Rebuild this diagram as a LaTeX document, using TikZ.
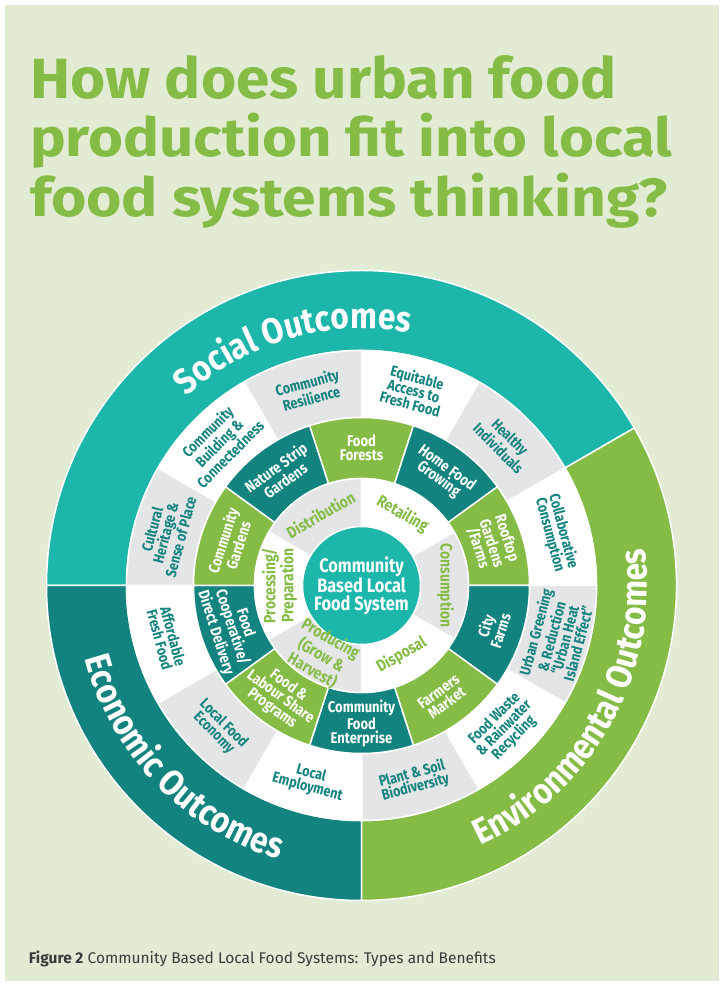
\documentclass[tikz,border=0pt]{standalone}
\usepackage{graphicx}
\usepackage{fontspec}
\setmainfont{Fira Sans}
\newfontfamily\labfont[FakeStretch=0.84]{Fira Sans}
\newfontfamily\outfont[FakeStretch=0.88]{Fira Sans}
\newfontfamily\ttlfont{Fira Sans}
\usetikzlibrary{decorations.text}
\definecolor{bgg}{HTML}{E2ECD4}
\definecolor{teal1}{HTML}{1DB6AA}
\definecolor{dteal}{HTML}{12837E}
\definecolor{lgreen}{HTML}{85BC46}
\definecolor{lgray}{HTML}{E4E5E7}
\definecolor{capgray}{HTML}{3A3A3A}
\newcommand{\annsec}[5]{%
  \path[secstyle, fill=#1] (#2:#4) arc[start angle=#2, end angle=#3, radius=#4]
    -- (#3:#5) arc[start angle=#3, end angle=#2, radius=#5] -- cycle;}
\tikzset{
  secstyle/.style={draw=white, line width=1.5pt, line join=round},
  outlab/.style={font={\labfont\bfseries\fontsize{15pt}{13.8pt}\selectfont}, text=dteal, align=center, inner sep=0pt},
  typelab/.style={font={\labfont\bfseries\fontsize{15.5pt}{14pt}\selectfont}, text=white, align=center, inner sep=0pt},
  stagelab/.style={font={\labfont\bfseries\fontsize{16.5pt}{15pt}\selectfont}, text=lgreen, align=center, inner sep=0pt},
  ctrlab/.style={font={\labfont\bfseries\fontsize{19.5pt}{17.5pt}\selectfont}, text=white, align=center, inner sep=0pt},
  ttl/.style={anchor=base west, inner sep=0pt, text=lgreen}
}
\begin{document}
\begin{tikzpicture}[x=1pt,y=1pt]
\useasboundingbox (0,0) rectangle (724,986);
\fill[white] (0,0) rectangle (724,986);
\fill[bgg] (4.5,5.3) rectangle (718.5,981.4);

% title
\node[ttl] (t1) at (30,887) {\resizebox{586pt}{43pt}{\ttlfont\bfseries How does urban food}};
\node[ttl] (t2) at (30,829) {\resizebox{642pt}{43.5pt}{\ttlfont\bfseries production fit into local}};
\node[ttl] (t3) at (30,769) {\resizebox{637pt}{43.5pt}{\ttlfont\bfseries food systems thinking?}};

\begin{scope}[shift={(361.5,400.5)}]
% outer ring
\annsec{teal1}{30}{180}{235pt}{315pt}
\annsec{dteal}{180}{270}{235pt}{315pt}
\annsec{lgreen}{-90}{30}{235pt}{315pt}
% outcome ring
\annsec{white}{60}{90}{168pt}{235pt}
\annsec{lgray}{30}{60}{168pt}{235pt}
\annsec{white}{0}{30}{168pt}{235pt}
\annsec{lgray}{-30}{0}{168pt}{235pt}
\annsec{white}{-60}{-30}{168pt}{235pt}
\annsec{lgray}{-90}{-60}{168pt}{235pt}
\annsec{white}{-120}{-90}{168pt}{235pt}
\annsec{lgray}{-150}{-120}{168pt}{235pt}
\annsec{white}{-180}{-150}{168pt}{235pt}
\annsec{lgray}{150}{180}{168pt}{235pt}
\annsec{white}{120}{150}{168pt}{235pt}
\annsec{lgray}{90}{120}{168pt}{235pt}
% types ring
\annsec{lgreen}{72}{108}{107pt}{168pt}
\annsec{dteal}{36}{72}{107pt}{168pt}
\annsec{lgreen}{0}{36}{107pt}{168pt}
\annsec{dteal}{-36}{0}{107pt}{168pt}
\annsec{lgreen}{-72}{-36}{107pt}{168pt}
\annsec{dteal}{-108}{-72}{107pt}{168pt}
\annsec{lgreen}{-144}{-108}{107pt}{168pt}
\annsec{dteal}{-180}{-144}{107pt}{168pt}
\annsec{lgreen}{144}{180}{107pt}{168pt}
\annsec{dteal}{108}{144}{107pt}{168pt}
% stage ring
\annsec{lgray}{90}{150}{59pt}{107pt}
\annsec{white}{30}{90}{59pt}{107pt}
\annsec{lgray}{-30}{30}{59pt}{107pt}
\annsec{white}{-90}{-30}{59pt}{107pt}
\annsec{lgray}{-150}{-90}{59pt}{107pt}
\annsec{white}{150}{210}{59pt}{107pt}
% centre
\path[fill=teal1, draw=white, line width=1.5pt] (0,0) circle[radius=59pt];
\node[ctrlab] (ctr) at (0,0) {Community\\Based Local\\Food System};

% outer ring labels
\path[decorate, decoration={text along path, text align=center,
  text={|\outfont\bfseries\fontsize{36pt}{36pt}\selectfont\color{white}|Social Outcomes}}]
  (176:257pt) arc[start angle=176, end angle=36, radius=257pt];
\path[decorate, decoration={text along path, text align=center,
  text={|\outfont\bfseries\fontsize{36pt}{36pt}\selectfont\color{white}|Economic Outcomes}}]
  (164:286pt) arc[start angle=164, end angle=284, radius=286pt];
\path[decorate, decoration={text along path, text align=center,
  text={|\outfont\bfseries\fontsize{36pt}{36pt}\selectfont\color{white}|Environmental Outcomes}}]
  (-89:286pt) arc[start angle=-89, end angle=31, radius=286pt];

% outcome labels
\node[outlab, rotate=-15] (o1) at (75:202pt) {Equitable\\Access to\\Fresh Food};
\node[outlab, rotate=-45] (o2) at (45:202pt) {Healthy\\Individuals};
\node[outlab, rotate=-75] (o3) at (15:202pt) {Collaborative\\Consumption};
\node[outlab, rotate=75] (o4) at (-15:202pt) {Urban Greening\\\& Reduction\\“Urban Heat\\Island Effect”};
\node[outlab, rotate=45] (o5) at (-45:202pt) {Food Waste\\\& Rainwater\\Recycling};
\node[outlab, rotate=15] (o6) at (-75:202pt) {Plant \& Soil\\Biodiversity};
\node[outlab, rotate=-15] (o7) at (-105:202pt) {Local\\Employment};
\node[outlab, rotate=-45] (o8) at (-135:202pt) {Local Food\\Economy};
\node[outlab, rotate=-75] (o9) at (-165:202pt) {Affordable\\Fresh Food};
\node[outlab, rotate=75] (o10) at (165:202pt) {Cultural\\Heritage \&\\Sense of Place};
\node[outlab, rotate=45] (o11) at (135:202pt) {Community\\Building \&\\Connectedness};
\node[outlab, rotate=15] (o12) at (105:202pt) {Community\\Resilience};

% type labels
\node[typelab] (y1) at (90:138pt) {Food\\Forests};
\node[typelab, rotate=-36] (y2) at (54:138pt) {Home Food\\Growing};
\node[typelab, rotate=-72] (y3) at (18:138pt) {Rooftop\\Gardens\\/Farms};
\node[typelab, rotate=72] (y4) at (-18:138pt) {City\\Farms};
\node[typelab, rotate=36] (y5) at (-54:138pt) {Farmers\\Market};
\node[typelab] (y6) at (-90:138pt) {Community\\Food\\Enterprise};
\node[typelab, rotate=-36] (y7) at (-126:138pt) {Food \&\\Labour Share\\Programs};
\node[typelab, rotate=-72] (y8) at (-162:138pt) {Food\\Cooperative/\\Direct Delivery};
\node[typelab, rotate=72] (y9) at (162:138pt) {Community\\Gardens};
\node[typelab, rotate=36] (y10) at (126:138pt) {Nature Strip\\Gardens};

% stage labels
\node[stagelab, rotate=30] (s1) at (120:82pt) {Distribution};
\node[stagelab, rotate=-30] (s2) at (60:82pt) {Retailing};
\node[stagelab, rotate=-90] (s3) at (0:84pt) {Consumption};
\node[stagelab, rotate=30] (s4) at (-60:80pt) {Disposal};
\node[stagelab, rotate=-30] (s5) at (-120:80pt) {Producing\\(Grow \&\\Harvest)};
\node[stagelab, rotate=90] (s6) at (180:82pt) {Processing/\\Preparation};
\end{scope}

% caption
\node[anchor=base west, inner sep=0pt, text=capgray] (cap) at (28.6,23) {\resizebox{467pt}{!}{\fontsize{13.5pt}{15pt}\selectfont\textbf{Figure 2} Community Based Local Food Systems: Types and Benefits}};
\end{tikzpicture}
\end{document}
